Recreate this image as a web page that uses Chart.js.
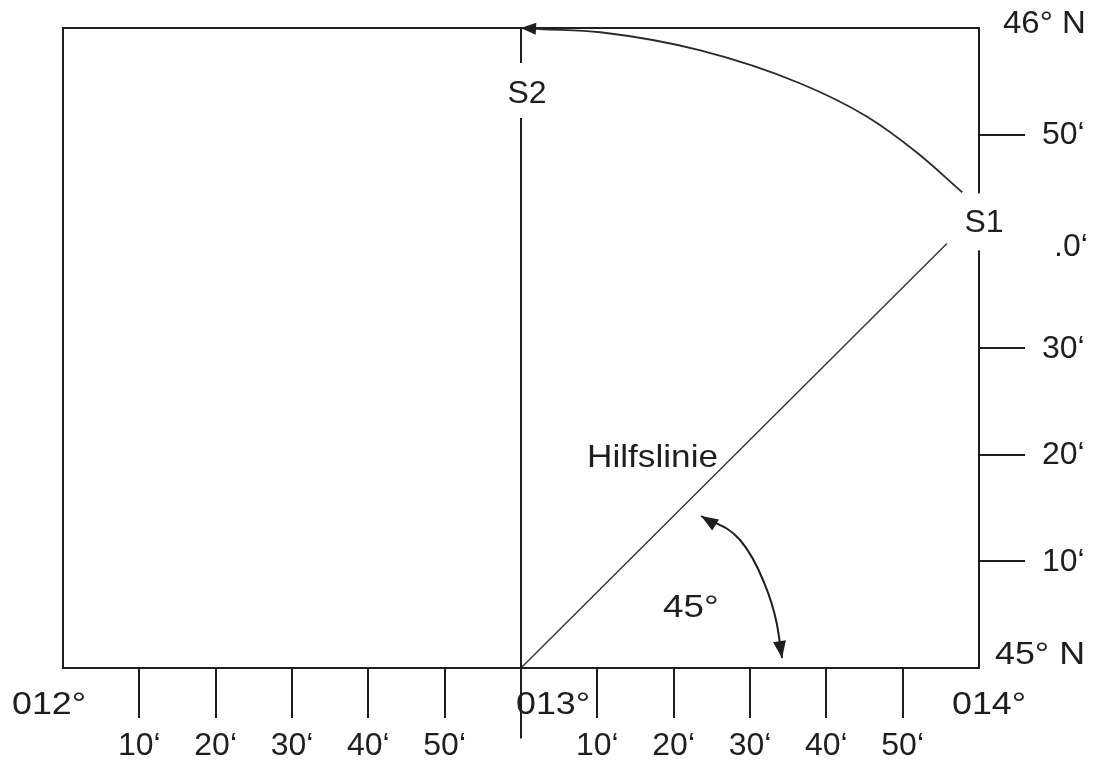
<!DOCTYPE html>
<html><head><meta charset="utf-8">
<script src="https://cdn.jsdelivr.net/npm/chart.js@4.4.1/dist/chart.umd.min.js"></script>
<style>html,body{margin:0;padding:0;background:#fff;}#wrap{width:1095px;height:761px;position:relative;}</style>
</head><body><div id="wrap"><canvas id="c"></canvas></div>
<script>
// x = minutes east of 012°00'  (0..120), y = minutes north of 45°00' (0..60)
const lonMinorTicks  = [10, 20, 30, 40, 50, 70, 80, 90, 100, 110];
const lonMinorLabels = ['10‘','20‘','30‘','40‘','50‘','10‘','20‘','30‘','40‘','50‘'];
const lonDegTicks    = [0, 60, 120];
const lonDegLabels   = ['012°', '013°', '014°'];
const latTicks       = [10, 20, 30, 50];
const latTickLabels  = ['10‘', '20‘', '30‘', '50‘'];
const latGapValue    = [40];
const latGapLabel    = ['.0‘'];
const latDegValues   = [0, 60];
const latDegLabels   = ['45° N', '46° N'];
const pointLabels    = ['S1', 'S2'];
const lineLabel      = ['Hilfslinie'];
const angleLabel     = ['45°'];

const meridian013 = [{x: 60, y: -6.6}, {x: 60, y: 60}];
const hilfslinie  = [{x: 60, y: 0}, {x: 115.8, y: 39.8}];
const arcS1toS2   = [{x: 117.8, y: 44.6}, {x: 111.9, y: 48.3}, {x: 105.3, y: 51.7}, {x: 96.6, y: 54.8},
                     {x: 83.5, y: 57.9}, {x: 70.4, y: 59.6}, {x: 62.5, y: 59.9}, {x: 60.0, y: 60}];
const angleArc    = [{x: 83.6, y: 14.25}, {x: 88.7, y: 12.0}, {x: 91.7, y: 8.25}, {x: 93.5, y: 4.2}, {x: 94.2, y: 0.94}];

const INK = '#1e1e1e';
const FONT = '"Liberation Sans", Arial, sans-serif';

function arrowHead(ctx, tip, from, len, half) {
  const dx = tip.x - from.x, dy = tip.y - from.y;
  const d = Math.hypot(dx, dy) || 1;
  const ux = dx / d, uy = dy / d;
  const bx = tip.x - ux * len, by = tip.y - uy * len;
  ctx.beginPath();
  ctx.moveTo(tip.x, tip.y);
  ctx.lineTo(bx - uy * half, by + ux * half);
  ctx.lineTo(bx + uy * half, by - ux * half);
  ctx.closePath();
  ctx.fill();
}

// draw text stretched horizontally (the reference lettering is slightly wide)
function wideText(ctx, text, x, y, sx) {
  ctx.save();
  ctx.translate(x, y);
  ctx.scale(sx, 1);
  ctx.fillText(text, 0, 0);
  ctx.restore();
}

const framePlugin = {
  id: 'frame',
  beforeDatasetsDraw(chart) {
    const {ctx, chartArea: a, scales: {x, y}} = chart;
    ctx.save();
    ctx.strokeStyle = INK; ctx.lineWidth = 2;
    ctx.strokeRect(a.left, a.top, a.right - a.left, a.bottom - a.top);
    lonMinorTicks.forEach(v => {
      const px = Math.round(x.getPixelForValue(v));
      ctx.beginPath(); ctx.moveTo(px, a.bottom); ctx.lineTo(px, a.bottom + 50); ctx.stroke();
    });
    latTicks.forEach(v => {
      const py = Math.round(y.getPixelForValue(v));
      ctx.beginPath(); ctx.moveTo(a.right, py); ctx.lineTo(a.right + 46, py); ctx.stroke();
    });
    ctx.restore();
  },
  afterDatasetsDraw(chart) {
    const {ctx, chartArea: a, scales: {x, y}} = chart;
    ctx.save();
    ctx.fillStyle = INK;
    ctx.textBaseline = 'middle';
    ctx.font = '32px ' + FONT;
    // bottom minute labels
    ctx.textAlign = 'center';
    lonMinorTicks.forEach((v, i) => ctx.fillText(lonMinorLabels[i], x.getPixelForValue(v), a.bottom + 78));
    // bottom degree labels
    ctx.textAlign = 'left';
    const degDx = [-51, -5, -27];
    lonDegTicks.forEach((v, i) => wideText(ctx, lonDegLabels[i], x.getPixelForValue(v) + degDx[i], a.bottom + 37, 1.12));
    // right minute labels
    latTicks.forEach((v, i) => ctx.fillText(latTickLabels[i], a.right + 63, y.getPixelForValue(v) + 1));
    ctx.fillText(latGapLabel[0], a.right + 75, y.getPixelForValue(latGapValue[0]) + 6);
    // degree of latitude labels
    wideText(ctx, latDegLabels[0], a.right + 16, y.getPixelForValue(latDegValues[0]) - 13, 1.12);
    wideText(ctx, latDegLabels[1], a.right + 24, y.getPixelForValue(latDegValues[1]) - 4, 1.03);

    // S1 box and label
    const s1x = a.right + 5, s1y = y.getPixelForValue(latGapValue[0]) - 19;
    ctx.fillStyle = '#fff';
    ctx.fillRect(s1x - 20, s1y - 29, 42, 57);
    ctx.fillStyle = INK;
    ctx.textAlign = 'center';
    ctx.fillText(pointLabels[0], s1x, s1y + 1);
    // S2 box and label
    const s2x = x.getPixelForValue(60) + 6, s2y = y.getPixelForValue(60) + 65;
    ctx.fillStyle = '#fff';
    ctx.fillRect(s2x - 20, s2y - 30, 40, 55);
    ctx.fillStyle = INK;
    ctx.fillText(pointLabels[1], s2x, s2y + 1);

    // Hilfslinie and angle labels
    ctx.textAlign = 'left';
    ctx.textBaseline = 'alphabetic';
    wideText(ctx, lineLabel[0], 587, y.getPixelForValue(0) - 201, 1.1);
    ctx.textBaseline = 'middle';
    wideText(ctx, angleLabel[0], 663, y.getPixelForValue(0) - 60, 1.15);

    // arrowheads
    const arcMeta = chart.getDatasetMeta(2).data;
    const n = arcMeta.length;
    arrowHead(ctx, {x: arcMeta[n-1].x, y: arcMeta[n-1].y}, {x: arcMeta[n-2].x, y: arcMeta[n-2].y}, 15, 6);
    const angMeta = chart.getDatasetMeta(3).data;
    const m = angMeta.length;
    arrowHead(ctx, {x: angMeta[0].x, y: angMeta[0].y}, {x: angMeta[1].x, y: angMeta[1].y}, 17, 6.5);
    arrowHead(ctx, {x: angMeta[m-1].x, y: angMeta[m-1].y}, {x: angMeta[m-2].x, y: angMeta[m-2].y}, 17, 6.5);
    ctx.restore();
  }
};

new Chart(document.getElementById('c'), {
  type: 'scatter',
  data: {
    datasets: [
      {data: meridian013, showLine: true, borderColor: INK, borderWidth: 2, pointRadius: 0, clip: false},
      {data: hilfslinie, showLine: true, borderColor: '#333', borderWidth: 1.4, pointRadius: 0, clip: false},
      {data: arcS1toS2, showLine: true, borderColor: '#2a2a2a', borderWidth: 1.8, pointRadius: 0, cubicInterpolationMode: 'monotone', clip: false},
      {data: angleArc, showLine: true, borderColor: INK, borderWidth: 2, pointRadius: 0, cubicInterpolationMode: 'monotone', clip: false}
    ]
  },
  options: {
    responsive: true,
    maintainAspectRatio: false,
    animation: false,
    layout: {padding: {left: 63, right: 116, top: 28, bottom: 93}},
    plugins: {legend: {display: false}, tooltip: {enabled: false}},
    scales: {
      x: {type: 'linear', min: 0, max: 120, display: false},
      y: {type: 'linear', min: 0, max: 60, display: false}
    }
  },
  plugins: [framePlugin]
});
</script>
</body></html>
